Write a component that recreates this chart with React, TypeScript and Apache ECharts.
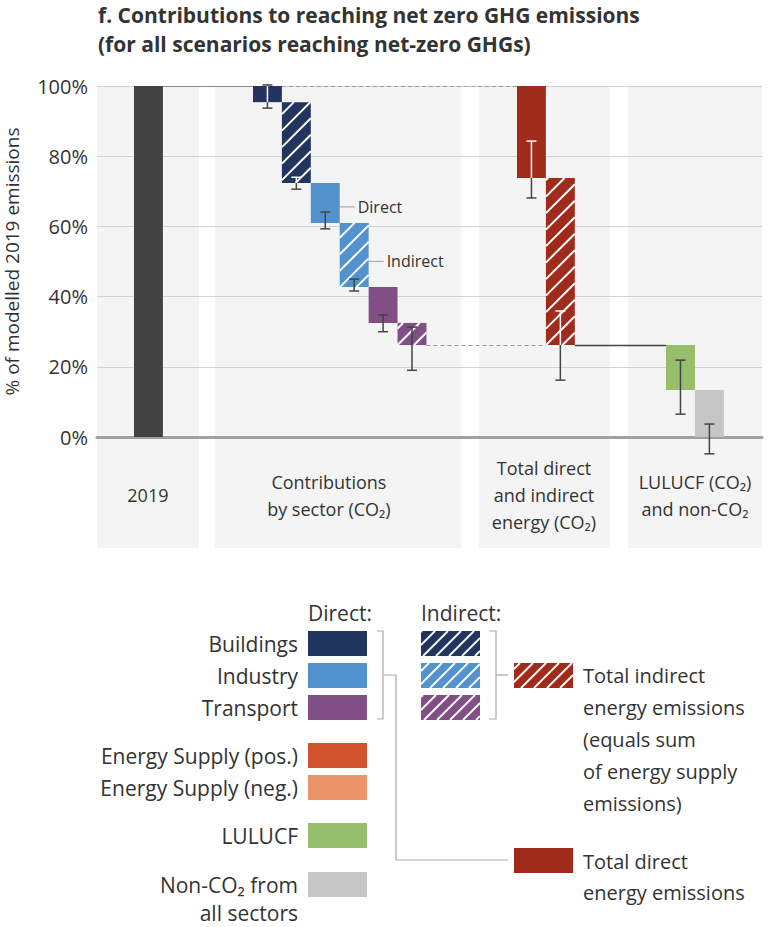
import React, { useEffect, useRef } from "react";
import * as echarts from "echarts";

// ---------- data ----------
const titleLines = [
  "f. Contributions to reaching net zero GHG emissions",
  "(for all scenarios reaching net-zero GHGs)",
];
const groupLabels = [
  "2019",
  "Contributions\nby sector (CO₂)",
  "Total direct\nand indirect\nenergy (CO₂)",
  "LULUCF (CO₂)\nand non-CO₂",
];
const yTicks = [0, 20, 40, 60, 80, 100];
const baselineShare = 100; // 2019 emissions = 100 %

const sectors = ["Buildings", "Industry", "Transport"];
const sectorDirectCuts = [4.6, 11.4, 10.2];
const sectorIndirectCuts = [23.0, 18.3, 6.3];
const sectorDirectRanges = [
  [93.7, 100.3],
  [59.3, 64.1],
  [30.0, 34.8],
];
const sectorIndirectRanges = [
  [70.6, 74.0],
  [41.6, 45.0],
  [19.0, 31.3],
];
const totalDirectRange = [68.1, 84.3];
const totalIndirectRange = [16.2, 35.9];

const remainderNames = ["LULUCF", "Non-CO₂"];
const remainderCuts = [12.8, 13.4];
const remainderRanges = [
  [6.5, 21.9],
  [-4.8, 3.7],
];

const barNotes = ["Direct", "Indirect"];
const legendDirectLabels = [
  "Buildings",
  "Industry",
  "Transport",
  "Energy Supply (pos.)",
  "Energy Supply (neg.)",
  "LULUCF",
  "Non-CO₂ from\nall sectors",
];
const legendTotalLabels = [
  "Total indirect\nenergy emissions\n(equals sum\nof energy supply\nemissions)",
  "Total direct\nenergy emissions",
];

// ---------- styles ----------
const FONT = '"Open Sans", "Noto Sans", "DejaVu Sans", sans-serif';
const INK = "#333333";
const ERR = "#444444";
const COLORS = {
  base: "#424242",
  buildings: "#22355f",
  industry: "#5192cf",
  transport: "#814f85",
  energyPos: "#d0532c",
  energyNeg: "#ea956a",
  energyTotal: "#a02b1b",
  lulucf: "#97bf6b",
  nonCo2: "#c6c6c6",
  panel: "#f4f4f4",
  grid: "#d2d2d2",
  bracket: "#aaaaaa",
};
const sectorColors = [COLORS.buildings, COLORS.industry, COLORS.transport];
const sectorErrInside = ["#ffffff", ERR, ERR];
const remainderColors = [COLORS.lulucf, COLORS.nonCo2];

// ---------- layout (x axis measured in bar widths) ----------
const X_UNITS = 23;
const PANEL_SPANS = [
  [0, 3.53],
  [4.08, 12.6],
  [13.21, 17.75],
  [18.37, 23],
];
const LABEL_CENTRE = [1.76, 8.02, 15.46, 20.68];
const GROUP_START = [1.28, 5.395, 14.526, 19.68];
const PANEL_DROP = 111; // panel extends below the 0 % line (px)
const LABEL_DROP = 58;
const HATCH_STEP = 16.5;

type BarSpec = {
  slot: number;
  top: number;
  bottom: number;
  range: number[] | null;
  fill: string;
  hatched: boolean;
  errInside: string;
  note?: string;
};

const sum = (a: number[]) => a.reduce((s, v) => s + v, 0);

const bars: BarSpec[] = [];
bars.push({
  slot: GROUP_START[0],
  top: baselineShare,
  bottom: 0,
  range: null,
  fill: COLORS.base,
  hatched: false,
  errInside: ERR,
});
let level = baselineShare;
sectors.forEach((_, i) => {
  bars.push({
    slot: GROUP_START[1] + 2 * i,
    top: level,
    bottom: level - sectorDirectCuts[i],
    range: sectorDirectRanges[i],
    fill: sectorColors[i],
    hatched: false,
    errInside: sectorErrInside[i],
    note: i === 1 ? barNotes[0] : undefined,
  });
  level -= sectorDirectCuts[i];
  bars.push({
    slot: GROUP_START[1] + 2 * i + 1,
    top: level,
    bottom: level - sectorIndirectCuts[i],
    range: sectorIndirectRanges[i],
    fill: sectorColors[i],
    hatched: true,
    errInside: sectorErrInside[i],
    note: i === 1 ? barNotes[1] : undefined,
  });
  level -= sectorIndirectCuts[i];
});
const sectorEndIdx = bars.length - 1;
const directTotal = sum(sectorDirectCuts);
const indirectTotal = sum(sectorIndirectCuts);
const totalDirectIdx = bars.length;
bars.push({
  slot: GROUP_START[2],
  top: baselineShare,
  bottom: baselineShare - directTotal,
  range: totalDirectRange,
  fill: COLORS.energyTotal,
  hatched: false,
  errInside: "#ffffff",
});
const totalIndirectIdx = bars.length;
bars.push({
  slot: GROUP_START[2] + 1,
  top: baselineShare - directTotal,
  bottom: baselineShare - directTotal - indirectTotal,
  range: totalIndirectRange,
  fill: COLORS.energyTotal,
  hatched: true,
  errInside: "#ffffff",
});
let rest = baselineShare - directTotal - indirectTotal;
const remainderStartIdx = bars.length;
remainderNames.forEach((_, i) => {
  bars.push({
    slot: GROUP_START[3] + i,
    top: rest,
    bottom: rest - remainderCuts[i],
    range: remainderRanges[i],
    fill: remainderColors[i],
    hatched: false,
    errInside: ERR,
  });
  rest -= remainderCuts[i];
});

// connectors: [from x, to x, level, style]
const connectorStyles = [
  { stroke: "#8a8a8a", lineWidth: 1, lineDash: null as number[] | null },
  { stroke: "#9a9a9a", lineWidth: 1, lineDash: [4, 3] },
  { stroke: "#444444", lineWidth: 1.4, lineDash: null as number[] | null },
];
const connectorData = [
  [bars[0].slot + 1, bars[1].slot, bars[1].top, 0],
  [bars[1].slot + 1, bars[totalDirectIdx].slot, bars[1].top, 1],
  [bars[sectorEndIdx].slot + 1, bars[totalIndirectIdx].slot, bars[sectorEndIdx].bottom, 1],
  [bars[totalIndirectIdx].slot + 1, bars[remainderStartIdx].slot, bars[totalIndirectIdx].bottom, 2],
];

// ---------- drawing helpers ----------
function hatchLines(x0: number, y0: number, x1: number, y1: number, step: number, width: number) {
  const out: any[] = [];
  const cStart = Math.ceil((x0 + y0) / step) * step;
  for (let c = cStart; c < x1 + y1; c += step) {
    const xa = Math.max(x0, c - y1);
    const xb = Math.min(x1, c - y0);
    if (xb - xa < 0.5) continue;
    out.push({
      type: "line",
      shape: { x1: xa, y1: c - xa, x2: xb, y2: c - xb },
      style: { stroke: "#ffffff", lineWidth: width },
      silent: true,
    });
  }
  return out;
}

function errorBar(cx: number, yHi: number, yLo: number, barTop: number, barBot: number, inside: string) {
  const out: any[] = [];
  const cap = 5;
  const lw = 1.5;
  const add = (a: number, b: number, col: string) => {
    if (b - a > 0.1) out.push({ type: "line", shape: { x1: cx, y1: a, x2: cx, y2: b }, style: { stroke: col, lineWidth: lw } });
  };
  // vertical part, split where it crosses the bar
  const inA = Math.max(yHi, barTop);
  const inB = Math.min(yLo, barBot);
  if (inB > inA) {
    add(yHi, inA, ERR);
    add(inA, inB, inside);
    add(inB, yLo, ERR);
  } else add(yHi, yLo, ERR);
  const capCol = (y: number) => (y >= barTop && y <= barBot ? inside : ERR);
  [yHi, yLo].forEach((y) =>
    out.push({ type: "line", shape: { x1: cx - cap, y1: y, x2: cx + cap, y2: y }, style: { stroke: capCol(y), lineWidth: lw } })
  );
  return out;
}

function textEl(text: string, x: number, y: number, size: number, align: string, vAlign: string, extra: any = {}) {
  return {
    type: "text",
    x,
    y,
    silent: true,
    style: {
      text,
      fill: INK,
      fontFamily: FONT,
      fontSize: size,
      align,
      verticalAlign: vAlign,
      textAlign: align,
      textVerticalAlign: vAlign,
      ...extra,
    },
  };
}

// ---------- legend (drawn with graphic elements) ----------
function buildLegend() {
  const els: any[] = [];
  const labelRight = 298;
  const directX = 308;
  const indirectX = 421;
  const totalX = 514;
  const noteX = 583;
  const sw = 59;
  const sh = 25;
  const rowTops = [631, 663, 695, 743, 775, 823, 872];
  const directFills = [
    COLORS.buildings,
    COLORS.industry,
    COLORS.transport,
    COLORS.energyPos,
    COLORS.energyNeg,
    COLORS.lulucf,
    COLORS.nonCo2,
  ];
  els.push(textEl("Direct:", directX, 613, 21, "left", "middle"));
  els.push(textEl("Indirect:", indirectX, 613, 21, "left", "middle"));
  legendDirectLabels.forEach((lab, i) => {
    const t = rowTops[i];
    els.push({ type: "rect", shape: { x: directX, y: t, width: sw, height: sh }, style: { fill: directFills[i] }, silent: true });
    const multi = lab.includes("\n");
    els.push(textEl(lab, labelRight, t + sh / 2 + (multi ? 14 : 0), 21, "right", "middle", { lineHeight: 28 }));
  });
  sectorColors.forEach((c, i) => {
    const t = rowTops[i];
    els.push({ type: "rect", shape: { x: indirectX, y: t, width: sw, height: sh }, style: { fill: c }, silent: true });
    els.push(...hatchLines(indirectX, t, indirectX + sw, t + sh, 13, 1.8));
  });
  // totals
  els.push({ type: "rect", shape: { x: totalX, y: 663, width: sw, height: sh }, style: { fill: COLORS.energyTotal }, silent: true });
  els.push(...hatchLines(totalX, 663, totalX + sw, 663 + sh, 13, 1.8));
  els.push({ type: "rect", shape: { x: totalX, y: 848, width: sw, height: sh }, style: { fill: COLORS.energyTotal }, silent: true });
  els.push(textEl(legendTotalLabels[0], noteX, 675 + 64, 20, "left", "middle", { lineHeight: 32 }));
  els.push(textEl(legendTotalLabels[1], noteX, 877, 20, "left", "middle", { lineHeight: 31 }));
  // brackets
  const bs = { stroke: COLORS.bracket, lineWidth: 1.2, fill: null };
  els.push({ type: "polyline", shape: { points: [[377, 631], [383, 631], [383, 719], [377, 719]] }, style: bs, silent: true });
  els.push({ type: "polyline", shape: { points: [[383, 675], [396, 675], [396, 860], [508, 860]] }, style: bs, silent: true });
  els.push({ type: "polyline", shape: { points: [[489, 631], [496, 631], [496, 719], [489, 719]] }, style: bs, silent: true });
  els.push({ type: "polyline", shape: { points: [[496, 675], [508, 675]] }, style: bs, silent: true });
  return els;
}

// ---------- component ----------
export default function App() {
  const ref = useRef<HTMLDivElement>(null);

  useEffect(() => {
    if (!ref.current) return;
    const chart = echarts.init(ref.current, undefined, { renderer: "svg" });

    const option: any = {
      animation: false,
      backgroundColor: "#ffffff",
      textStyle: { fontFamily: FONT },
      graphic: [
        ...titleLines.map((t, i) =>
          textEl(t, 98, 15 + i * 28.8, 21, "left", "middle", { fontWeight: "bold", lineHeight: 22 })
        ),
        ...buildLegend(),
      ],
      grid: {
        left: 97,
        top: 86,
        width: 665,
        height: 351,
        containLabel: false,
        outerBoundsMode: "none",
      },
      xAxis: {
        type: "value",
        min: 0,
        max: X_UNITS,
        axisLabel: { show: false },
        axisTick: { show: false },
        splitLine: { show: false },
        axisLine: { show: true, onZero: false, lineStyle: { color: "#a0a0a0", width: 3 } },
        z: 1,
      },
      yAxis: {
        type: "value",
        min: yTicks[0],
        max: yTicks[yTicks.length - 1],
        interval: yTicks[1] - yTicks[0],
        name: "% of modelled 2019 emissions",
        nameLocation: "middle",
        nameGap: 76,
        nameTextStyle: { fontSize: 19, color: INK, fontFamily: FONT },
        axisLabel: { formatter: (v: number) => `${v}%`, fontSize: 20, color: INK, margin: 9, fontFamily: FONT },
        axisLine: { show: false },
        axisTick: { show: false },
        splitLine: { show: true, lineStyle: { color: COLORS.grid, width: 1 } },
        z: 0,
      },
      series: [
        {
          type: "custom",
          name: "panels",
          z: -1,
          silent: true,
          data: PANEL_SPANS.map((s, i) => [s[0], s[1], LABEL_CENTRE[i], i]),
          renderItem: (_p: any, api: any) => {
            const i = api.value(3);
            const a = api.coord([api.value(0), yTicks[yTicks.length - 1]]);
            const b = api.coord([api.value(1), 0]);
            const lc = api.coord([api.value(2), 0]);
            return {
              type: "group",
              children: [
                {
                  type: "rect",
                  shape: { x: a[0], y: a[1], width: b[0] - a[0], height: b[1] + PANEL_DROP - a[1] },
                  style: { fill: COLORS.panel },
                },
                textEl(groupLabels[i], lc[0], b[1] + LABEL_DROP, 18, "center", "middle", { lineHeight: 27 }),
              ],
            };
          },
        },
        {
          type: "custom",
          name: "connectors",
          z: 2,
          silent: true,
          data: connectorData,
          renderItem: (_p: any, api: any) => {
            const p0 = api.coord([api.value(0), api.value(2)]);
            const p1 = api.coord([api.value(1), api.value(2)]);
            const st = connectorStyles[api.value(3)];
            return {
              type: "line",
              shape: { x1: p0[0], y1: Math.round(p0[1]) + 0.5, x2: p1[0], y2: Math.round(p1[1]) + 0.5 },
              style: { stroke: st.stroke, lineWidth: st.lineWidth, lineDash: st.lineDash || undefined },
            };
          },
        },
        {
          type: "custom",
          name: "contributions",
          z: 3,
          silent: true,
          data: bars.map((b, i) => [b.slot, b.top, b.bottom, b.range ? b.range[0] : b.bottom, b.range ? b.range[1] : b.top, i]),
          renderItem: (_p: any, api: any) => {
            const spec = bars[api.value(5)];
            const top = api.value(1);
            const bottom = api.value(2);
            const p0 = api.coord([api.value(0), top]);
            const p1 = api.coord([api.value(0) + 1, bottom]);
            const x0 = p0[0], y0 = p0[1], x1 = p1[0], y1 = p1[1];
            const children: any[] = [
              { type: "rect", shape: { x: x0, y: y0, width: x1 - x0, height: y1 - y0 }, style: { fill: spec.fill } },
            ];
            if (spec.hatched) children.push(...hatchLines(x0, y0, x1, y1, HATCH_STEP, 2));
            if (spec.range) {
              const cx = (x0 + x1) / 2;
              const hi = api.coord([api.value(0), api.value(4)])[1];
              const lo = api.coord([api.value(0), api.value(3)])[1];
              children.push(...errorBar(cx, hi, lo, y0, y1, spec.errInside));
            }
            if (spec.note) {
              const ny = api.coord([api.value(0), top - 0.6 * (top - bottom)])[1];
              children.push({
                type: "line",
                shape: { x1: x1, y1: ny, x2: x1 + 15, y2: ny },
                style: { stroke: COLORS.bracket, lineWidth: 1.2 },
              });
              children.push(textEl(spec.note, x1 + 18, ny, 16, "left", "middle"));
            }
            return { type: "group", children };
          },
        },
      ],
    };

    chart.setOption(option);
    return () => chart.dispose();
  }, []);

  return (
    <div
      ref={ref}
      style={{ position: "absolute", left: 0, top: 0, width: 768, height: 927, background: "#fff" }}
    />
  );
}
